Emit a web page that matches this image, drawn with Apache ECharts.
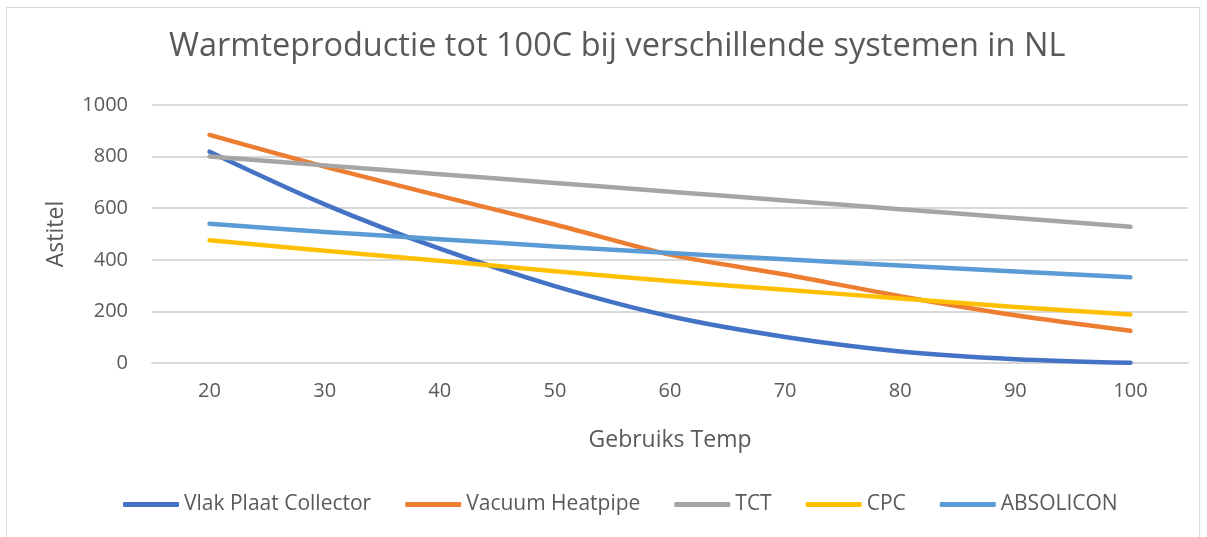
<!DOCTYPE html>
<html>
<head>
<meta charset="utf-8">
<script src="https://cdn.jsdelivr.net/npm/echarts@6/dist/echarts.min.js"></script>
<style>
	html, body { margin: 0; padding: 0; background: #fff; }
	#frame { position: absolute; left: 6px; top: 7px; width: 1194px; height: 540px; border: 1px solid #d9d9d9; box-sizing: border-box; }
	#chart { position: absolute; left: 0; top: 0; width: 1207px; height: 537px; }
</style>
</head>
<body>
<div id="frame"></div>
<div id="chart"></div>
<script>
var categories = ['20', '30', '40', '50', '60', '70', '80', '90', '100'];
var vlakPlaat = [819, 615, 443, 298, 181, 101, 45, 15, 1];
var vacuumHeatpipe = [884, 761, 648, 537, 420, 343, 259, 185, 125];
var tct = [800, 766, 732, 698, 664, 630, 596, 562, 528];
var cpc = [476, 435, 396, 356, 318, 284, 250, 217, 188];
var absolicon = [540, 508, 480, 452, 426, 402, 378, 355, 332];

var names = ['Vlak Plaat Collector', 'Vacuum Heatpipe', 'TCT', 'CPC', 'ABSOLICON'];
var colors = ['#4472C4', '#ED7D31', '#A5A5A5', '#FFC000', '#5B9BD5'];
var values = [vlakPlaat, vacuumHeatpipe, tct, cpc, absolicon];

var font = 'Open Sans';
var textColor = '#595959';

var series = [];
for (var i = 0; i < names.length; i++) {
	series.push({
		name: names[i],
		type: 'line',
		data: values[i],
		smooth: 0.3,
		symbol: 'none',
		lineStyle: { width: 4.5, color: colors[i], cap: 'round', join: 'round' },
		itemStyle: { color: colors[i] }
	});
}

var chart = echarts.init(document.getElementById('chart'));
chart.setOption({
	animation: false,
	textStyle: { fontFamily: font },
	title: {
		text: 'Warmteproductie tot 100C bij verschillende systemen in NL',
		left: 164,
		top: 25,
		textStyle: { fontFamily: font, fontSize: 32.5, fontWeight: 'normal', color: textColor }
	},
	legend: {
		top: 489,
		left: 118,
		itemWidth: 56,
		itemHeight: 5,
		itemGap: 34,
		icon: 'roundRect',
		textStyle: { fontFamily: font, fontSize: 21, color: textColor },
		data: names
	},
	grid: { left: 152, right: 19, top: 105, bottom: 174 },
	xAxis: {
		type: 'category',
		data: categories,
		boundaryGap: true,
		name: 'Gebruiks Temp',
		nameLocation: 'middle',
		nameGap: 66,
		nameTextStyle: { fontFamily: font, fontSize: 23, color: textColor },
		axisLine: { lineStyle: { color: '#d9d9d9', width: 2 } },
		axisTick: { show: false },
		axisLabel: { fontFamily: font, fontSize: 20, color: textColor, margin: 18 }
	},
	yAxis: {
		type: 'value',
		min: 0,
		max: 1000,
		interval: 200,
		name: 'Astitel',
		nameLocation: 'middle',
		nameGap: 84,
		nameRotate: 90,
		nameTextStyle: { fontFamily: font, fontSize: 23, color: textColor },
		axisLine: { show: false },
		axisTick: { show: false },
		splitLine: { lineStyle: { color: '#d9d9d9', width: 2 } },
		axisLabel: {
			fontFamily: font, fontSize: 20, color: textColor, margin: 24,
			formatter: function(v) { return String(v); }
		}
	},
	series: series
});
</script>
</body>
</html>
